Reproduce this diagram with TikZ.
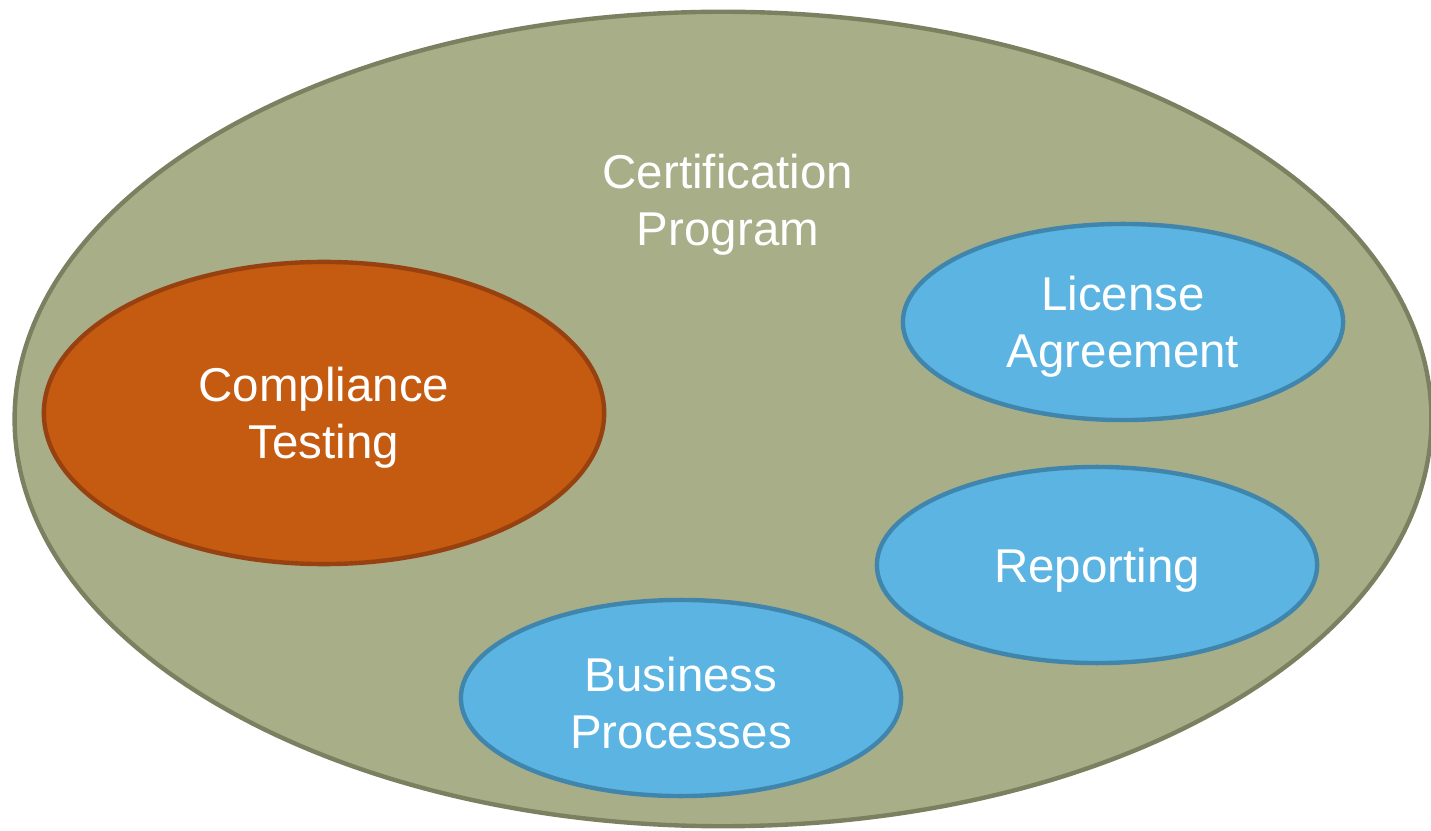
\documentclass[tikz,border=0pt]{standalone}
\usepackage{fontspec}
\setmainfont{Liberation Sans}
\usetikzlibrary{shapes.geometric}
\definecolor{olivefill}{HTML}{A8AE88}
\definecolor{oliveline}{HTML}{7B8060}
\definecolor{orangefill}{HTML}{C55A11}
\definecolor{orangeline}{HTML}{984110}
\definecolor{bluefill}{HTML}{5CB4E2}
\definecolor{blueline}{HTML}{4086AC}
% a strut on the first line sets the text a little lower in its ellipse
\newcommand{\topstrut}{\rule{0pt}{12.6pt}}
\begin{document}
\begin{tikzpicture}[x=0.01cm,y=-0.01cm]
        \tikzstyle{blob}=[ellipse,line width=1.25pt,inner sep=0pt,text=white,align=center,font=\fontsize{13.5}{16.2}\selectfont]
        \tikzstyle{program}=[blob,draw=oliveline,fill=olivefill,minimum width=14.16cm,minimum height=8.14cm]
        \tikzstyle{test}=[blob,draw=orangeline,fill=orangefill,minimum width=5.6cm,minimum height=3.02cm]
        \tikzstyle{part}=[blob,draw=blueline,fill=bluefill,minimum width=4.4cm,minimum height=1.96cm]
        \useasboundingbox (0,0) rectangle (1431,831);
        \clip (0,0) rectangle (1431,831);

         \node [program] (prog) at (723,419) {};
         \node [blob] (progtext) at (728,200) {\topstrut Certification\\Program};

         \node [test] (comp) at (324,413) {\topstrut Compliance\\Testing};

         \node [part] (lic) at (1123,322) {\topstrut License\\Agreement};
         \node [part] (rep) at (1097,565) {\topstrut Reporting};
         \node [part] (bus) at (681,698) {\topstrut Business\\Processes};
\end{tikzpicture}
\end{document}
